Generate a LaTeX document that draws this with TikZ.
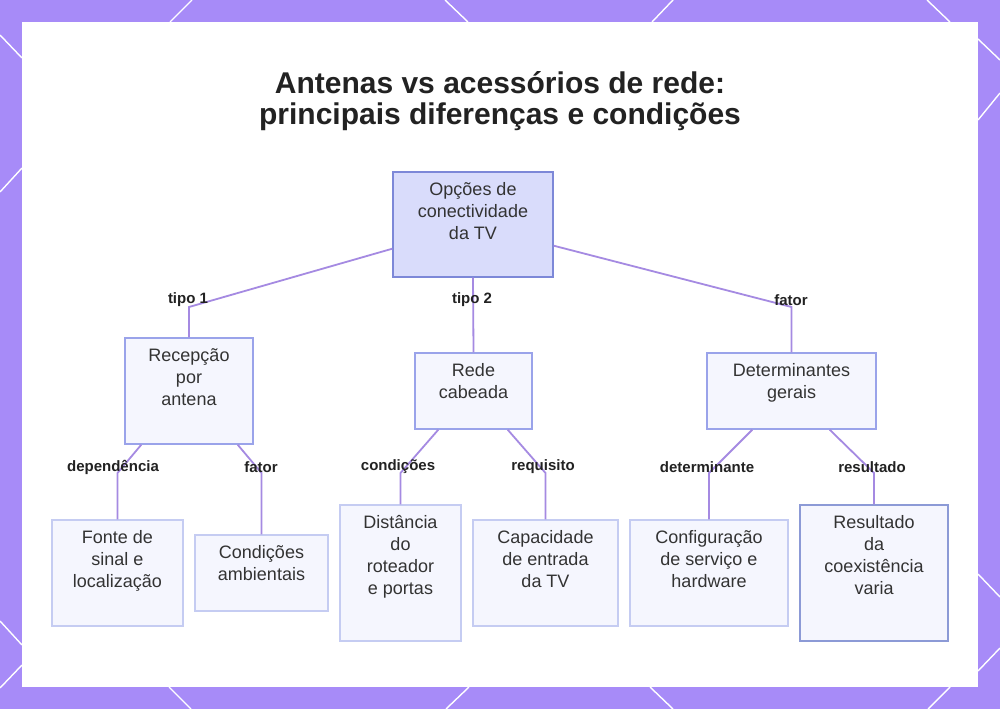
\documentclass[tikz,border=0pt]{standalone}
\usepackage{fontspec}
\setmainfont{Liberation Sans}
\usetikzlibrary{calc}
\definecolor{framec}{HTML}{A78BF8}
\definecolor{edgec}{HTML}{A58AE2}
\definecolor{rootfill}{HTML}{D9DCFB}
\definecolor{rootdraw}{HTML}{7D88D8}
\definecolor{boxfill}{HTML}{F5F6FE}
\definecolor{middraw}{HTML}{9AA3EA}
\definecolor{lightdraw}{HTML}{C5CCF2}
\definecolor{darkdraw}{HTML}{8C9AD6}
\definecolor{txt}{HTML}{333333}
\definecolor{lbl}{HTML}{222222}
\newcommand{\boxtext}[1]{\fontsize{18}{22}\selectfont\begin{tabular}[t]{@{}c@{}}#1\end{tabular}}
\begin{document}
\begin{tikzpicture}[x=1pt,y=-1pt,
  deco/.style={draw=white, line width=1.4pt},
  boxbase/.style={rectangle, line width=1.4pt, fill=boxfill, inner sep=0pt},
  rootbox/.style={boxbase, draw=rootdraw, fill=rootfill},
  midbox/.style={boxbase, draw=middraw},
  lightbox/.style={boxbase, draw=lightdraw},
  darkbox/.style={boxbase, draw=darkdraw},
  btext/.style={anchor=base, inner sep=0pt, text=txt},
  elabel/.style={inner sep=0pt, text=lbl, font=\fontsize{15}{17}\selectfont\bfseries},
  edge/.style={draw=edgec, line width=1.8pt}
]
\useasboundingbox (0,0) rectangle (1000,709);
\fill[framec] (0,0) rectangle (1000,709);
\fill[white] (22,22) rectangle (978,687);
% decorative diagonals in the frame
\draw[deco] (170,22) -- (192,0);
\draw[deco] (445,0) -- (468,22);
\draw[deco] (652,22) -- (673,0);
\draw[deco] (927,0) -- (950,22);
\draw[deco] (0,35) -- (22,58);
\draw[deco] (0,192) -- (22,168);
\draw[deco] (0,621) -- (22,645);
\draw[deco] (0,688) -- (22,665);
\draw[deco] (978,39) -- (1000,60);
\draw[deco] (978,120) -- (1000,93);
\draw[deco] (978,574) -- (1000,597);
\draw[deco] (978,671) -- (1000,648);
\draw[deco] (169,687) -- (191,709);
\draw[deco] (469,687) -- (446,709);
\draw[deco] (650,687) -- (673,709);
\draw[deco] (950,687) -- (928,709);

% title
\node[anchor=base, inner sep=0pt, text=lbl] (title) at (500,93)
  {\fontsize{30}{31}\selectfont\bfseries\begin{tabular}[t]{@{}c@{}}Antenas vs acessórios de rede:\\principais diferenças e condições\end{tabular}};

% boxes
\node[rootbox, minimum width=160pt, minimum height=105pt] (root) at (473,224.5) {};
\node[midbox, minimum width=128pt, minimum height=106pt] (rec) at (189,391) {};
\node[lightbox, minimum width=131pt, minimum height=106pt] (fonte) at (117.5,573) {};
\node[lightbox, minimum width=133pt, minimum height=76pt] (cond) at (261.5,573) {};
\node[midbox, minimum width=117pt, minimum height=76pt] (rede) at (473.5,391) {};
\node[lightbox, minimum width=121pt, minimum height=136pt] (dist) at (400.5,573) {};
\node[lightbox, minimum width=145pt, minimum height=106pt] (cap) at (545.5,573) {};
\node[midbox, minimum width=169pt, minimum height=76pt] (det) at (791.5,391) {};
\node[lightbox, minimum width=158pt, minimum height=106pt] (conf) at (709,573) {};
\node[darkbox, minimum width=148pt, minimum height=136pt] (res) at (874,573) {};

% box texts
\node[btext] (rootT) at ($(root.north)+(0,24)$) {\boxtext{Opções de\\conectividade\\da TV}};
\node[btext] (recT) at ($(rec.north)+(0,24)$) {\boxtext{Recepção\\por\\antena}};
\node[btext] (fonteT) at ($(fonte.north)+(0,24)$) {\boxtext{Fonte de\\sinal e\\localização}};
\node[btext] (condT) at ($(cond.north)+(0,24)$) {\boxtext{Condições\\ambientais}};
\node[btext] (redeT) at ($(rede.north)+(0,24)$) {\boxtext{Rede\\cabeada}};
\node[btext] (distT) at ($(dist.north)+(0,24)$) {\boxtext{Distância\\do\\roteador\\e portas}};
\node[btext] (capT) at ($(cap.north)+(0,24)$) {\boxtext{Capacidade\\de entrada\\da TV}};
\node[btext] (detT) at ($(det.north)+(0,24)$) {\boxtext{Determinantes\\gerais}};
\node[btext] (confT) at ($(conf.north)+(0,24)$) {\boxtext{Configuração\\de serviço e\\hardware}};
\node[btext] (resT) at ($(res.north)+(0,24)$) {\boxtext{Resultado\\da\\coexistência\\varia}};

% connectors
\coordinate (b1) at (189,307);
\coordinate (b3) at (791.5,307);
\draw[edge] ($(root.south west)+(0,-29)$) -- (b1) -- (rec.north);
\draw[edge] (root.south) -- (rede.north);
\draw[edge] ($(root.south east)+(0,-32)$) -- (b3) -- (det.north);
\coordinate (b4) at (117.5,473);
\coordinate (b5) at (261.5,473);
\coordinate (b6) at (400.5,473);
\coordinate (b7) at (545.5,473);
\coordinate (b8) at (709,473);
\coordinate (b9) at (874,473);
\draw[edge] ($(rec.south west)+(17,0)$) -- (b4) -- (fonte.north);
\draw[edge] ($(rec.south east)+(-16,0)$) -- (b5) -- (cond.north);
\draw[edge] ($(rede.south west)+(24,0)$) -- (b6) -- (dist.north);
\draw[edge] ($(rede.south east)+(-25,0)$) -- (b7) -- (cap.north);
\draw[edge] ($(det.south west)+(46,0)$) -- (b8) -- (conf.north);
\draw[edge] ($(det.south east)+(-47,0)$) -- (b9) -- (res.north);

% edge labels
\node[elabel] (l1) at (188,300) {tipo 1};
\node[elabel] (l2) at (472,300) {tipo 2};
\node[elabel] (l3) at (791,300) {fator};
\node[elabel] (l4) at (113,467) {dependência};
\node[elabel] (l5) at (261,467) {fator};
\node[elabel] (l6) at (398,467) {condições};
\node[elabel] (l7) at (543,467) {requisito};
\node[elabel] (l8) at (707,467) {determinante};
\node[elabel] (l9) at (872,467) {resultado};
\end{tikzpicture}
\end{document}
